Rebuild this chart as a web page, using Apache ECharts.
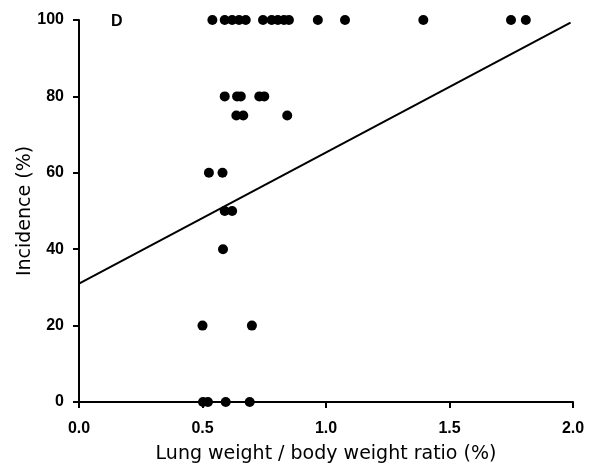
<!DOCTYPE html>
<html><head><meta charset="utf-8">
<script src="https://cdn.jsdelivr.net/npm/echarts@6/dist/echarts.min.js"></script>
<style>html,body{margin:0;padding:0;background:#fff}#c{width:596px;height:465px}</style>
</head><body><div id="c"></div>
<script>
var ratioX = [0.54,0.59,0.62,0.648,0.675,0.745,0.78,0.805,0.83,0.85,0.967,1.077,1.394,1.749,1.809,
              0.59,0.64,0.655,0.73,0.75,
              0.637,0.665,0.843,
              0.526,0.581,
              0.59,0.62,
              0.583,
              0.50,0.70,
              0.502,0.522,0.594,0.691];
var incidence = [100,100,100,100,100,100,100,100,100,100,100,100,100,100,100,
                 80,80,80,80,80,
                 75,75,75,
                 60,60,
                 50,50,
                 40,
                 20,20,
                 0,0,0,0];
var fitX = [0.0, 1.99];
var fitY = [31.0, 99.3];
var xTicks = [0.0,0.5,1.0,1.5,2.0];
var yTicks = [0,20,40,60,80,100];
var panelLabel = 'D';
var xTitle = 'Lung weight / body weight ratio (%)';
var yTitle = 'Incidence (%)';

var pts = ratioX.map(function(x,i){return [x, incidence[i]];});
var fit = fitX.map(function(x,i){return [x, fitY[i]];});
var chart = echarts.init(document.getElementById('c'));
var font = '"Liberation Sans", Arial, sans-serif';
var tfont = '"DejaVu Sans", sans-serif';
chart.setOption({
  animation:false,
  backgroundColor:'#fff',
  grid:{left:79,right:23,top:20,bottom:63,containLabel:false,outerBoundsMode:'none'},
  title:{text:panelLabel,left:106,top:9,textStyle:{fontFamily:font,fontSize:16,fontWeight:'bold',color:'#000'}},
  xAxis:{type:'value',min:0,max:2,interval:0.5,
    name:xTitle,nameLocation:'middle',nameGap:43,nameMoveOverlap:false,
    nameTextStyle:{fontFamily:tfont,fontSize:19,color:'#000'},
    axisLine:{show:true,lineStyle:{color:'#000',width:2}},
    axisTick:{show:true,length:6,lineStyle:{color:'#000',width:2}},
    axisLabel:{fontFamily:font,fontSize:16,fontWeight:'bold',color:'#000',margin:19,
      formatter:function(v){return v.toFixed(1);}},
    splitLine:{show:false}},
  yAxis:{type:'value',min:0,max:100,interval:20,
    name:yTitle,nameLocation:'middle',nameGap:44,nameMoveOverlap:false,
    nameTextStyle:{fontFamily:tfont,fontSize:19,color:'#000'},
    axisLine:{show:true,lineStyle:{color:'#000',width:2}},
    axisTick:{show:true,length:6,lineStyle:{color:'#000',width:2}},
    axisLabel:{fontFamily:font,fontSize:16,fontWeight:'bold',color:'#000',margin:15},
    splitLine:{show:false}},
  series:[
    {type:'line',data:fit,showSymbol:false,symbol:'none',lineStyle:{color:'#000',width:2},z:2},
    {type:'scatter',data:pts,symbol:'circle',symbolSize:10,itemStyle:{color:'#000',opacity:1},z:3}
  ]
});
</script></body></html>
